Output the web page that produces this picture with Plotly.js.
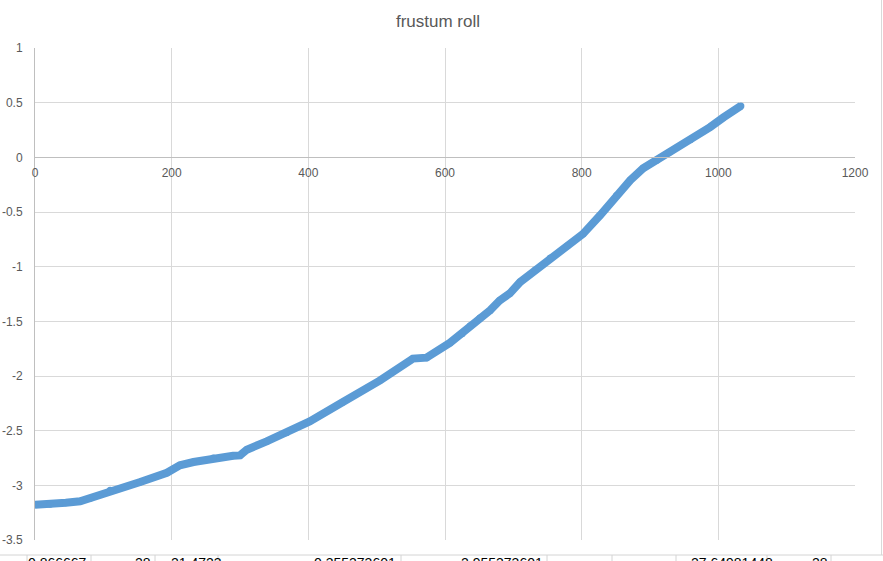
<!DOCTYPE html>
<html>
<head>
<meta charset="utf-8">
<script src="https://cdn.plot.ly/plotly-3.0.1.min.js"></script>
<style>html,body{margin:0;padding:0;background:#fff;overflow:hidden}#chart{width:883px;height:561px}</style>
</head>
<body>
<div id="chart"></div>
<script>
// ---- data ----
var frameIndex = [0, 22, 45, 66, 80, 110, 154, 193, 212, 232, 261, 290, 300, 310, 339, 368, 402, 450, 505, 553, 573, 607, 625, 637, 651, 666, 680, 695, 710, 732, 754, 779, 802, 827, 851, 871, 890, 910, 929, 959, 988, 1007, 1033];
var rollValue  = [-3.177, -3.174, -3.16, -3.146, -3.12, -3.046, -2.97, -2.885, -2.817, -2.787, -2.75, -2.73, -2.726, -2.674, -2.598, -2.52, -2.415, -2.24, -2.04, -1.841, -1.832, -1.698, -1.613, -1.54, -1.47, -1.40, -1.31, -1.244, -1.14, -1.03, -0.92, -0.81, -0.70, -0.53, -0.35, -0.21, -0.10, -0.027, 0.048, 0.16, 0.277, 0.363, 0.47];
var xTickVals = [0, 200, 400, 600, 800, 1000, 1200];
var xTickText = ["0", "200", "400", "600", "800", "1000", "1200"];
var yTickVals = [1, 0.5, 0, -0.5, -1, -1.5, -2, -2.5, -3, -3.5];
var yTickText = ["1", "0.5", "0", "-0.5", "-1", "-1.5", "-2", "-2.5", "-3", "-3.5"];
var cellTexts = ["0.866667", "28", "21.4723", "0.355373601", "2.955373601", "27.64981448", "28"];

// ---- page geometry (pixels) ----
var W = 883, H = 561, L = 35, R = 855, T = 48, B = 540;
function px(x) { return (x - L) / (R - L); }
function py(y) { return (B - y) / (B - T); }

var cellRight = [88, 152, null, 397, 544, null, 829];
var cellLeft  = [null, null, 170, null, null, 690, null];
var cellSeps  = [27, 91, 155, 218, 401, 547, 612, 676, 767, 831];

var shapes = [
  {type: 'line', xref: 'paper', yref: 'paper', x0: px(881.5), x1: px(881.5), y0: py(0), y1: py(555), line: {color: '#d9d9d9', width: 1}},
  {type: 'line', xref: 'paper', yref: 'paper', x0: px(0), x1: px(883), y0: py(555), y1: py(555), line: {color: '#d4d4d4', width: 1}}
];
cellSeps.forEach(function (s) {
  shapes.push({type: 'line', xref: 'paper', yref: 'paper', x0: px(s), x1: px(s), y0: py(555), y1: py(565), line: {color: '#d4d4d4', width: 1}});
});

var annotations = [];
cellTexts.forEach(function (t, i) {
  var right = cellRight[i] !== null;
  annotations.push({
    text: t, showarrow: false, xref: 'paper', yref: 'paper',
    x: px(right ? cellRight[i] : cellLeft[i]), xanchor: right ? 'right' : 'left',
    y: py(554), yanchor: 'top', borderpad: 0,
    font: {family: 'Liberation Sans, Arial, sans-serif', size: 14, color: '#000'}
  });
});

var trace = {
  x: frameIndex, y: rollValue, type: 'scatter', mode: 'lines+markers',
  line: {color: '#5b9bd5', width: 8},
  marker: {color: '#5b9bd5', size: 7, line: {width: 0}},
  hoverinfo: 'skip', showlegend: false
};

var tickFont = {family: 'Liberation Sans, Arial, sans-serif', size: 12, color: '#595959'};

var layout = {
  width: W, height: H,
  margin: {l: L, r: W - R, t: T, b: H - B, pad: 0},
  paper_bgcolor: '#fff', plot_bgcolor: '#fff',
  title: {text: 'frustum roll', x: 0.496, xanchor: 'center', y: 1 - 21 / H, yanchor: 'middle',
          font: {family: 'Liberation Sans, Arial, sans-serif', size: 17, color: '#595959'}},
  xaxis: {
    range: [0, 1200], tickvals: xTickVals, ticktext: xTickText,
    anchor: 'free', position: (0 - (-3.5)) / 4.5,
    showgrid: true, gridcolor: '#d9d9d9', gridwidth: 1, zeroline: false,
    showline: true, linecolor: '#bfbfbf', linewidth: 1, ticks: '',
    ticklabelstandoff: 4,
    tickfont: tickFont,
    fixedrange: true
  },
  yaxis: {
    range: [-3.5, 1], tickvals: yTickVals, ticktext: yTickText,
    showgrid: true, gridcolor: '#d9d9d9', gridwidth: 1, zeroline: false,
    showline: true, linecolor: '#bfbfbf', linewidth: 1, ticks: '',
    ticklabelstandoff: 9,
    tickfont: tickFont,
    fixedrange: true
  },
  shapes: shapes,
  annotations: annotations
};

Plotly.newPlot('chart', [trace], layout, {displayModeBar: false, staticPlot: true});
</script>
</body>
</html>
